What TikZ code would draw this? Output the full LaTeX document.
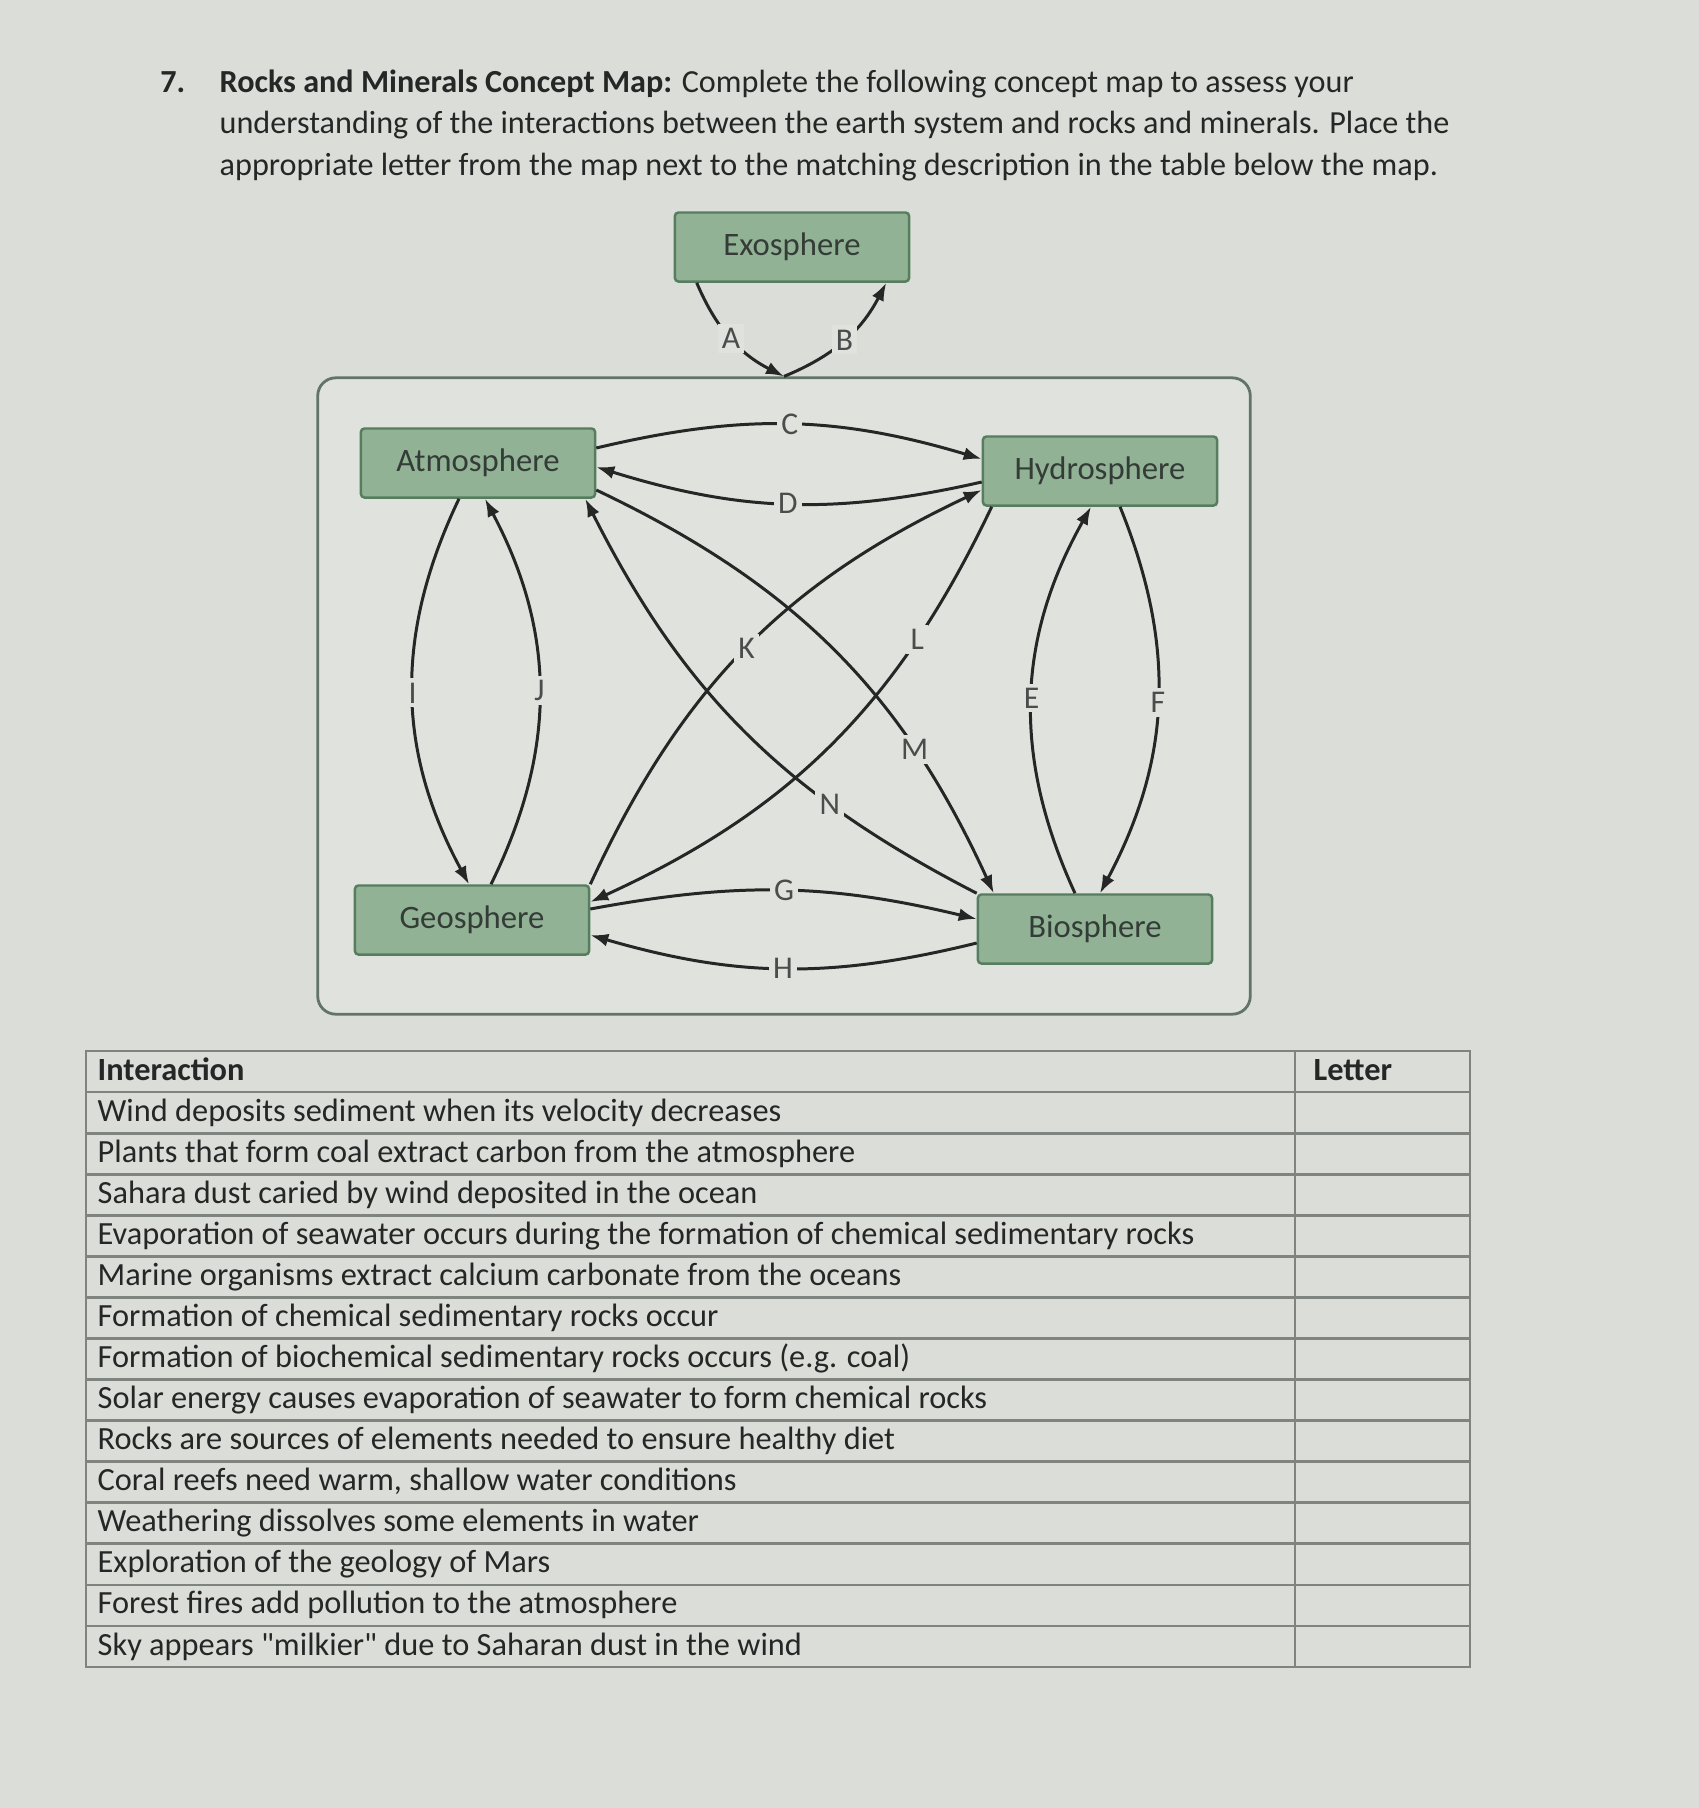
\documentclass[tikz,border=0pt]{standalone}
\usepackage{fontspec}
\setmainfont{Carlito}
\usetikzlibrary{arrows.meta,positioning}

\definecolor{pagebg}{RGB}{218,221,216}
\definecolor{panelbg}{RGB}{223,226,221}
\definecolor{panelline}{RGB}{98,116,104}
\definecolor{boxfill}{RGB}{146,178,150}
\definecolor{boxline}{RGB}{86,126,94}
\definecolor{boxtext}{RGB}{52,60,55}
\definecolor{gridline}{RGB}{128,132,128}

\tikzset{
  sphere/.style={draw=boxline, line width=0.7pt, fill=boxfill, rounded corners=1pt,
    minimum width=2.34cm, minimum height=0.69cm, inner sep=0pt, text=boxtext,
    font=\fontsize{9.3}{11}\selectfont},
  link/.style={-{Latex[length=1.8mm,width=1.3mm]}, line width=0.85pt, draw=black!85},
  tag/.style={fill=panelbg, inner sep=1.2pt, text=black!70, font=\fontsize{9}{10}\selectfont},
  rowtext/.style={anchor=base west, inner sep=0pt, text=black!85, font=\fontsize{9.2}{11}\selectfont},
  titletext/.style={anchor=base west, inner sep=0pt, text=black!85, font=\fontsize{9.15}{11}\selectfont},
}

\begin{document}
\begin{tikzpicture}[x=0.01cm, y=0.01cm]
    % 1. Page
    \fill[pagebg] (0,0) rectangle (1699,-1808);
    \useasboundingbox (0,0) rectangle (1699,-1808);

    % 2. Question text
    \node[titletext, anchor=base east] (qnum) at (186,-92) {\textbf{7.}};
    \node[titletext] (title1) at (219,-92) {\textbf{Rocks and Minerals Concept Map:} Complete the following concept map to assess your};
    \node[titletext] (title2) at (219,-133) {understanding of the interactions between the earth system and rocks and minerals. Place the};
    \node[titletext] (title3) at (219,-175) {appropriate letter from the map next to the matching description in the table below the map.};

    % 3. Earth system panel and the spheres
    \node[draw=panelline, line width=0.8pt, fill=panelbg, rounded corners=1.8mm,
      minimum width=9.32cm, minimum height=6.36cm] (system) at (784,-696) {};
    \node[sphere] (exo) at (792,-247) {Exosphere};
    \node[sphere] (atmo) at (478,-463) {Atmosphere};
    \node[sphere] (hydro) at (1100,-471) {Hydrosphere};
    \node[sphere] (geo) at (472,-920) {Geosphere};
    \node[sphere] (bio) at (1095,-929) {Biosphere};

    % 4. Interactions A - N
    \draw[link] ([xshift=2.3mm]exo.south west) to[bend right=20] node[tag] {A} (system.north);
    \draw[link] (system.north) to[bend right=20] node[tag] {B} ([xshift=-2.4mm]exo.south east);

    \draw[link] ([yshift=1.5mm]atmo.east) to[bend left=15] node[tag] {C} ([yshift=1.2mm]hydro.west);
    \draw[link] ([yshift=-1.1mm]hydro.west) to[bend left=15] node[tag] {D} ([yshift=-0.4mm]atmo.east);

    \draw[link] ([xshift=-2mm]bio.north) to[bend left=27] node[tag] {E} ([xshift=-0.9mm]hydro.south);
    \draw[link] ([xshift=2mm]hydro.south) to[bend left=25] node[tag] {F} ([xshift=0.5mm]bio.north);

    \draw[link] ([yshift=1.1mm]geo.east) to[bend left=12] node[tag] {G} ([yshift=1mm]bio.west);
    \draw[link] ([yshift=-1.4mm]bio.west) to[bend left=15] node[tag] {H} ([yshift=-1.5mm]geo.east);

    \draw[link] ([xshift=-1.9mm]atmo.south) to[bend right=27] node[tag] {I} ([xshift=-0.3mm]geo.north);
    \draw[link] ([xshift=1.9mm]geo.north) to[bend right=27] node[tag] {J} ([xshift=0.7mm]atmo.south);

    \draw[link] (geo.north east) to[bend left=20] node[tag, pos=0.5] {K} ([yshift=-1.9mm]hydro.west);
    \draw[link] ([xshift=1mm]hydro.south west) to[bend left=20] node[tag, pos=0.25] {L} ([yshift=1.8mm]geo.east);
    \draw[link] ([yshift=-2.7mm]atmo.east) to[bend left=20] node[tag, pos=0.73] {M} ([xshift=1.7mm]bio.north west);
    \draw[link] (bio.north west) to[bend left=18] node[tag, pos=0.29] {N} ([xshift=-1.1mm]atmo.south east);

    % 5. Answer table
    \draw[gridline, line width=0.8pt] (86,-1051) rectangle (1470,-1667);
    \draw[gridline, line width=0.8pt] (1295,-1051) -- (1295,-1667); % letter column
    \foreach \i in {1,...,14}
        \draw[gridline, line width=0.8pt] (86,{-1051-41.07*\i}) -- (1470,{-1051-41.07*\i});

    \node[rowtext] (head) at (97,-1080) {\textbf{Interaction}};
    \node[rowtext] (letterhead) at (1313,-1080) {\textbf{Letter}};
    \foreach \t [count=\i] in {Wind deposits sediment when its velocity decreases,
        Plants that form coal extract carbon from the atmosphere,
        Sahara dust caried by wind deposited in the ocean,
        Evaporation of seawater occurs during the formation of chemical sedimentary rocks,
        Marine organisms extract calcium carbonate from the oceans,
        Formation of chemical sedimentary rocks occur,
        Formation of biochemical sedimentary rocks occurs (e.g. coal),
        Solar energy causes evaporation of seawater to form chemical rocks,
        Rocks are sources of elements needed to ensure healthy diet,
        {Coral reefs need warm, shallow water conditions},
        Weathering dissolves some elements in water,
        Exploration of the geology of Mars,
        Forest fires add pollution to the atmosphere,
        Sky appears \textquotedbl milkier\textquotedbl{} due to Saharan dust in the wind}
        \node[rowtext] (row\i) at (97,{-1080-41.07*\i}) {\t};
\end{tikzpicture}
\end{document}
